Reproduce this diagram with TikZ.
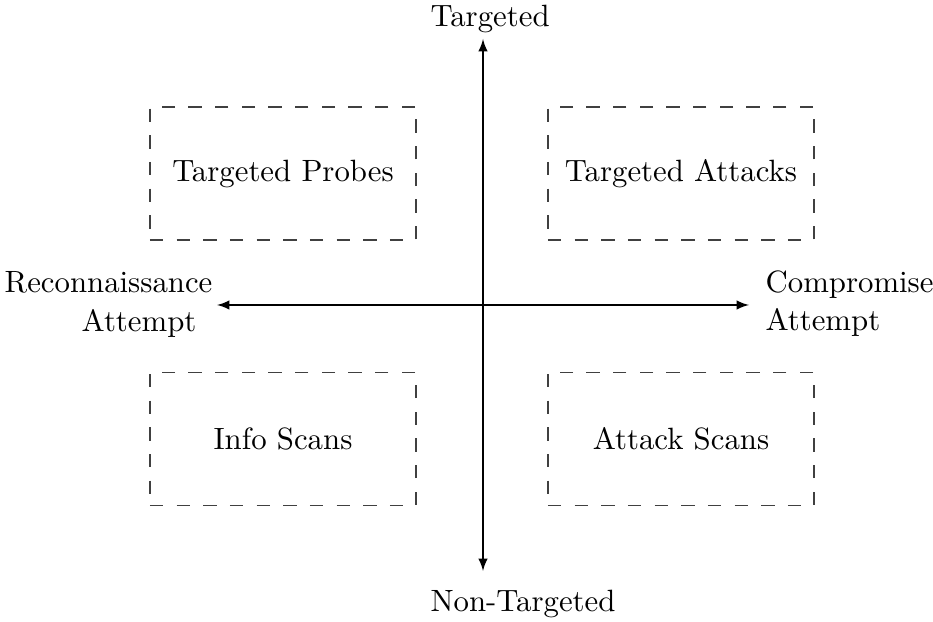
\documentclass[tikz,border=0pt]{standalone}
\usetikzlibrary{arrows}
\begin{document}
\begin{tikzpicture}[x=0.3247pt,y=-0.3247pt,
  quadbox/.style={draw=black!75, dash pattern=on 4.33pt off 4.33pt, minimum width=86.4pt,
    minimum height=43.2pt, inner sep=0pt},
  axislabel/.style={inner sep=0pt, anchor=base west},
  axis/.style={latex-latex}]
\useasboundingbox (0,0) rectangle (933,622);

% axes
\coordinate (N) at (483,39);
\coordinate (S) at (483,571);
\coordinate (W) at (217,305);
\coordinate (E) at (749,305);
\draw[axis] (W) -- (E);
\draw[axis] (S) -- (N);

% axis labels
\node[axislabel] (top) at (430,27) {Targeted};
\node[axislabel] (bottom) at (430,612) {Non-Targeted};
\node[inner sep=0pt, align=right, anchor=base east] (left) at (213,331.5)
  {Reconnaissance\\[0.56pt]Attempt\kern5.2pt};
\node[inner sep=0pt, align=left, anchor=base west] (right) at (765,331)
  {Compromise\\[0.56pt]Attempt};

% quadrants
\node[quadbox] (tp) at (283,173.5) {Targeted Probes};
\node[quadbox] (ta) at (681,173.5) {Targeted Attacks};
\node[quadbox] (is) at (283,439) {Info Scans};
\node[quadbox] (as) at (681,439) {Attack Scans};
\end{tikzpicture}
\end{document}
